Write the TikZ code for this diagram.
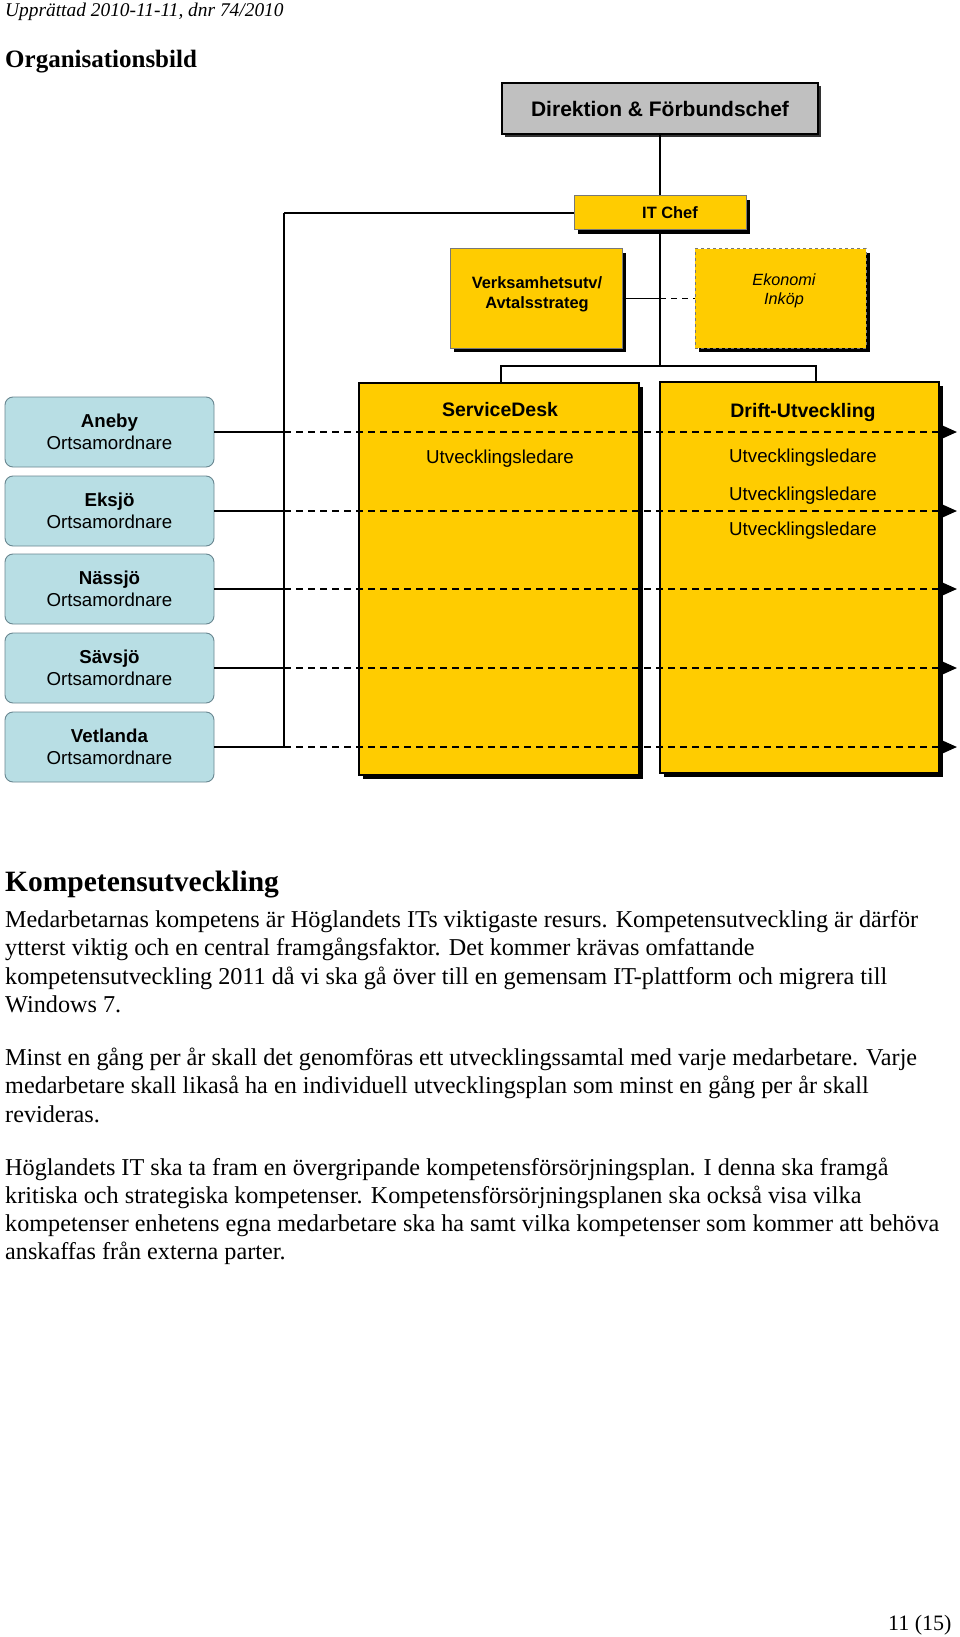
\documentclass[tikz,border=0pt]{standalone}
\usepackage{fontspec}
\setmainfont{Liberation Serif}
\newfontfamily\arial{Liberation Sans}
\usetikzlibrary{arrows.meta,shadows}
\definecolor{ygold}{RGB}{255,204,0}
\definecolor{dirgray}{RGB}{192,192,192}
\definecolor{lblue}{RGB}{184,222,228}
\definecolor{lbord}{RGB}{105,135,145}
\definecolor{vbord}{RGB}{120,120,120}
\begin{document}
\begin{tikzpicture}[x=1pt,y=-1pt,
  shadowed/.style={drop shadow={shadow xshift=4pt,shadow yshift=-4pt,opacity=1,fill=black}},
  ybox/.style={draw=black,line width=1.5pt,fill=ygold,inner sep=0pt,shadowed},
  bbox/.style={draw=lbord,line width=0.9pt,fill=lblue,rounded corners=8pt,minimum width=209pt,minimum height=70pt,inner sep=0pt,align=center,font=\arial\fontsize{18.7}{22}\selectfont},
  lbl/.style={inner sep=0pt,font=\arial\fontsize{18.7}{22}\selectfont},
  blbl/.style={inner sep=0pt,font=\arial\bfseries\fontsize{19.5}{22}\selectfont},
  conn/.style={draw=black,line width=2pt},
  thin/.style={draw=black,line width=1.2pt},
  dconn/.style={draw=black,line width=2pt,dash pattern=on 7pt off 5pt,-{Triangle[length=14pt,width=12pt]}},
  body/.style={anchor=base west,inner sep=0pt,font=\fontsize{24.2}{28}\selectfont}
]
\useasboundingbox (0,0) rectangle (960,1637);
\fill[white] (0,0) rectangle (960,1637);

% header texts
\node[body,font=\itshape\fontsize{19.4}{22}\selectfont] (hdr) at (5,17) {Upprättad 2010-11-11, dnr 74/2010};
\node[body,font=\bfseries\fontsize{25}{28}\selectfont] (orgt) at (5,68) {Organisationsbild};

% top boxes
\node[draw=black,line width=1.5pt,fill=dirgray,minimum width=316pt,minimum height=51pt,inner sep=0pt,
      drop shadow={shadow xshift=3pt,shadow yshift=-3pt,opacity=1,fill=black!80},
      font=\arial\bfseries\fontsize{21}{24}\selectfont] (dir) at (660,108.5) {Direktion \& Förbundschef};
\node[ybox,line width=1pt,draw=vbord,minimum width=172pt,minimum height=34pt,shadowed] (itc) at (660,213) {};
\node[inner sep=0pt,font=\arial\bfseries\fontsize{16.4}{20}\selectfont] (itct) at (670,213) {IT Chef};
\node[ybox,line width=1pt,draw=vbord,minimum width=172pt,minimum height=99pt] (vu) at (536,298.5) {};
\node[inner sep=0pt,align=center,font=\arial\bfseries\fontsize{16.4}{20}\selectfont] (vut) at (537,294) {Verksamhetsutv/\\Avtalsstrateg};
\node[ybox,line width=1pt,draw=vbord,dashed,minimum width=171pt,minimum height=99pt] (eko) at (780.5,298.5) {};
\node[inner sep=0pt,align=center,font=\arial\itshape\fontsize{16.2}{19}\selectfont] (ekot) at (784,290.5) {Ekonomi\\Inköp};

% large boxes
\node[ybox,minimum width=280pt,minimum height=392pt] (sd) at (499,579) {};
\node[ybox,minimum width=279pt,minimum height=391pt] (drift) at (799.5,577.5) {};
\node[blbl] (sdt) at (500,410) {ServiceDesk};
\node[lbl] (sdu) at (500,459) {Utvecklingsledare};
\node[blbl] (drt) at (803,412) {Drift-Utveckling};
\node[lbl] (dru1) at (803,458) {Utvecklingsledare};
\node[lbl] (dru2) at (803,496) {Utvecklingsledare};
\node[lbl] (dru3) at (803,531) {Utvecklingsledare};

% blue boxes
\node[bbox] (b1) at (109.5,432) {\textbf{Aneby}\\Ortsamordnare};
\node[bbox] (b2) at (109.5,511) {\textbf{Eksjö}\\Ortsamordnare};
\node[bbox] (b3) at (109.5,589) {\textbf{Nässjö}\\Ortsamordnare};
\node[bbox] (b4) at (109.5,668) {\textbf{Sävsjö}\\Ortsamordnare};
\node[bbox] (b5) at (109.5,747) {\textbf{Vetlanda}\\Ortsamordnare};

% coordinates
\coordinate (br) at (660,366);
\coordinate (lb) at (284,747);
\coordinate (e1) at (957,432);
\coordinate (e2) at (957,511);
\coordinate (e3) at (957,589);
\coordinate (e4) at (957,668);
\coordinate (e5) at (957,747);

% connectors
\draw[draw=black,line width=2.6pt] (dir.south) -- (itc.north);
\draw[conn,line width=1.6pt] (itc.south) -- (br);
\draw[thin] ([xshift=2pt]sd.north) |- (br) -| ([xshift=16.5pt]drift.north);
\draw[conn,line width=1.6pt] (vu.east) -- (vu.east -| br);
\draw[draw=black,line width=1.6pt,dash pattern=on 6pt off 5pt] (vu.east -| br) -- (eko.west);
\draw[conn] (itc.west) -- (itc.west -| lb);
\draw[thin] (itc.west -| lb) -- (lb);
\foreach \i in {1,...,5}{
  \draw[conn] (b\i.east) -- (b\i.east -| lb);
  \draw[dconn] (b\i.east -| lb) -- (e\i);
}

% text section
\node[body,font=\bfseries\fontsize{29.5}{32}\selectfont] (kt) at (5,891) {Kompetensutveckling};
\node[body] (l1) at (5,927.5) {Medarbetarnas kompetens är Höglandets ITs viktigaste resurs. Kompetensutveckling är därför};
\node[body] (l2) at (5,955.8) {ytterst viktig och en central framgångsfaktor. Det kommer krävas omfattande};
\node[body] (l3) at (5,984.1) {kompetensutveckling 2011 då vi ska gå över till en gemensam IT-plattform och migrera till};
\node[body] (l4) at (5,1012.4) {Windows 7.};
\node[body] (l5) at (5,1065.5) {Minst en gång per år skall det genomföras ett utvecklingssamtal med varje medarbetare. Varje};
\node[body] (l6) at (5,1093.8) {medarbetare skall likaså ha en individuell utvecklingsplan som minst en gång per år skall};
\node[body] (l7) at (5,1122.1) {revideras.};
\node[body] (l8) at (5,1175) {Höglandets IT ska ta fram en övergripande kompetensförsörjningsplan. I denna ska framgå};
\node[body] (l9) at (5,1203.3) {kritiska och strategiska kompetenser. Kompetensförsörjningsplanen ska också visa vilka};
\node[body] (l10) at (5,1231.6) {kompetenser enhetens egna medarbetare ska ha samt vilka kompetenser som kommer att behöva};
\node[body] (l11) at (5,1259.9) {anskaffas från externa parter.};

\node[body,font=\fontsize{22}{26}\selectfont] (pg) at (888,1630) {11 (15)};
\end{tikzpicture}
\end{document}
